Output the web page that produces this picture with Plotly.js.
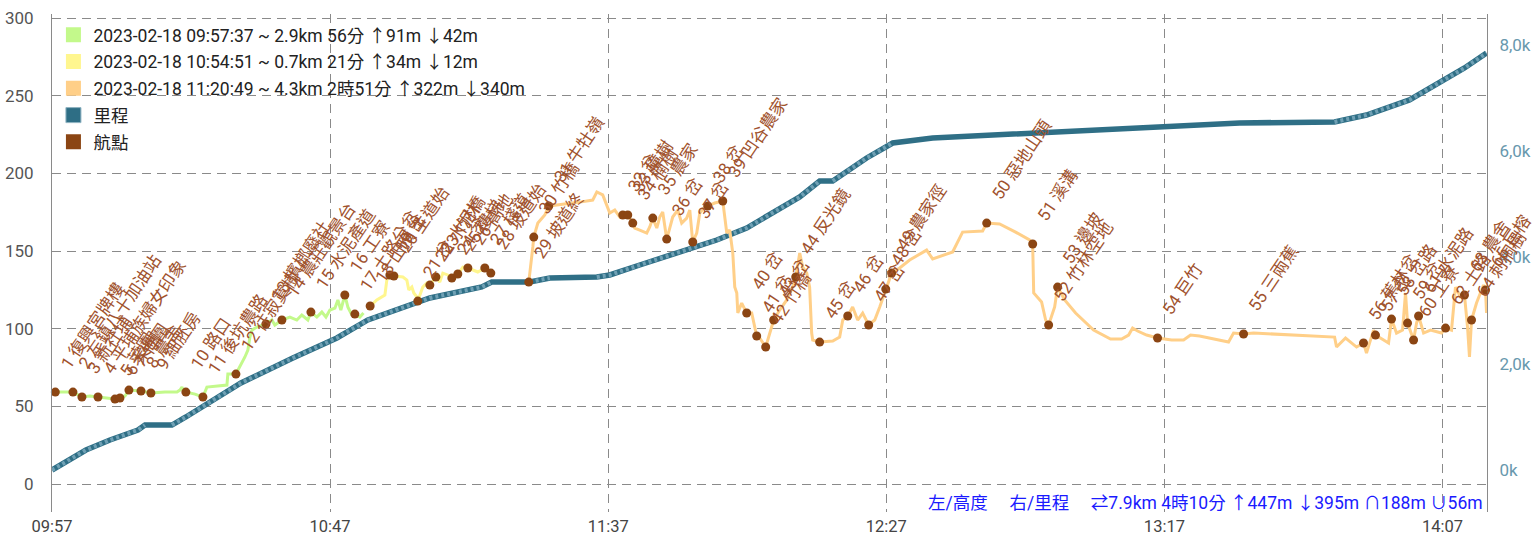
<!DOCTYPE html>
<html><head><meta charset="utf-8">
<script src="https://cdn.plot.ly/plotly-3.0.1.min.js"></script>
<style>html,body{margin:0;padding:0;background:#fff}#chart{width:1537px;height:539px}</style>
</head><body><div id="chart"></div>
<script>
// minutes after 2023-02-18 09:57:37
const greenMin = [0,1.80,3.77,5.39,6.83,8.27,10.07,11.32,12.22,13.12,13.84,16.00,17.79,20.31,22.47,23.01,23.37,23.73,24.08,25.70,27.14,27.86,31.45,31.63,33.07,33.97,34.69,35.23,35.59,35.95,36.85,38.47,39.54,40.08,41.34,42.78,44.03,44.93,46.01,46.55,47.63,48.53,49.25,49.97,50.87,51.40,51.94,52.66,53.20,53.92,54.46,55.36,56.0];
const greenAlt = [59.2,59.2,59.2,56.0,56.7,56.0,55.4,54.7,55.4,56.7,60.5,59.9,58.6,59.2,59.2,60.5,62.4,59.2,59.2,57.9,56.0,62.4,63.7,70.8,70.8,76.6,81.8,86.3,94.6,99.1,101.1,103.0,105.6,102.4,105.6,107.5,105.6,108.8,105.6,110.7,107.5,110.7,107.5,112.0,113.3,118.5,112.0,121.7,113.9,108.8,109.4,107.5,110.1];

const yellowMin = [57.2,58.41,59.85,60.21,60.75,61.47,63.09,63.80,64.16,64.70,65.06,65.60,65.78,66.68,67.40,67.94,69.02,69.73,70.27,71.17,71.89,72.97,73.87,74.77,75.67,76.56,77.82,78.90];
const yellowAlt = [114.6,118.5,121.7,131.3,134.6,133.9,133.3,131.3,124.9,126.8,123.0,120.4,117.8,126.8,129.4,128.1,133.3,130.0,135.8,134.6,132.6,135.2,139.7,139.1,137.8,136.5,139.1,135.8];

const orangeMin = [85.73,86.09,86.45,86.63,87.35,88.61,89.33,90.77,92.56,94.90,97.23,97.95,99.03,100.29,101.19,102.09,102.63,103.52,104.42,104.78,105.68,106.94,107.48,108.02,108.74,109.28,109.81,110.53,111.07,111.61,112.51,113.23,114.13,114.67,115.21,115.93,116.47,117.19,117.91,119.16,120.60,121.32,121.86,122.40,122.76,123.12,123.30,124.01,124.91,125.81,126.71,127.25,128.33,129.05,129.76,130.84,132.10,133.18,133.72,134.44,134.98,135.70,136.23,136.59,136.77,138.03,140.37,141.63,142.17,143.07,143.96,144.86,145.76,146.84,147.92,148.82,149.90,150.97,152.41,154.21,157.26,158.34,161.94,163.73,167.33,168.05,170.38,173.26,175.78,176.32,176.50,177.93,178.65,179.19,180.27,180.81,182.07,184.04,187.28,190.33,192.31,193.57,194.29,195.19,196.80,198.78,201.30,203.45,204.71,206.33,211.54,212.44,214.24,216.04,230.60,230.96,232.57,234.55,235.80,236.34,237.60,237.96,240.30,240.84,241.74,242.82,243.36,243.72,244.80,245.34,245.70,246.60,247.85,249.83,250.55,251.62,252.34,253.24,253.96,254.50,254.86,255.22,256.12,256.84,257.38,257.74,257.92];
const orangeAlt = [130.0,139.7,152.6,159.0,168.0,173.2,179.0,179.6,180.3,181.5,182.8,188.0,186.1,174.5,176.4,171.9,173.2,173.2,168.0,164.8,163.5,161.6,165.5,171.2,164.8,171.9,175.1,157.7,164.8,171.9,176.4,168.0,171.2,176.4,155.8,161.6,174.5,177.7,179.0,180.9,182.2,161.6,163.5,148.7,126.8,123.0,110.1,116.5,110.1,110.1,95.3,94.0,88.2,97.2,105.6,112.0,118.5,126.8,133.3,148.7,139.7,135.8,126.8,97.2,92.7,91.4,92.1,94.6,105.6,108.2,114.0,105.6,110.1,102.4,105.6,114.0,125.5,135.8,139.1,144.2,150.6,144.9,149.4,162.2,162.9,168.0,167.4,162.2,157.1,154.5,123.0,117.2,105.6,102.4,114.0,126.8,118.5,110.1,99.1,93.3,93.3,95.9,100.4,98.5,95.9,94.0,92.7,92.7,95.9,95.3,91.4,97.2,96.6,97.2,94.6,88.2,94.0,88.2,90.8,84.3,99.1,95.9,90.8,106.2,97.2,99.1,123.0,103.6,92.7,103.6,108.2,97.2,99.1,97.2,100.4,99.1,126.8,120.4,121.7,101.1,81.8,105.6,116.5,123.0,128.1,124.9,110.1];

const distMin = [0,6.11,10.42,15.46,16.72,21.57,24.08,33.97,43.31,51.22,56.79,61.83,67.94,77.28,79.08,85.91,89.50,97.95,100.29,105.68,114.13,119.52,124.91,130.84,134.44,138.03,140.37,146.48,151.15,158.34,170.38,184.76,200.58,213.52,230.59,236.34,244.07,249.46,253.95,257.92];
const distM = [0,376,565,753,847,847,998,1638,2108,2485,2824,3012,3238,3445,3539,3539,3614,3633,3671,3859,4141,4329,4555,4913,5139,5440,5440,5873,6155,6249,6306,6381,6475,6532,6551,6682,6965,7304,7567,7849];

const wpMin = [0.6,3.77,5.39,8.27,11.32,12.22,13.84,16.00,17.79,24.08,27.14,33.07,38.47,41.34,46.55,52.66,54.46,57.2,60.75,61.47,65.78,67.94,69.02,71.89,72.97,74.77,77.82,78.90,85.73,86.63,89.33,102.63,103.52,104.42,108.02,110.53,115.21,117.91,120.60,124.91,126.71,128.33,129.76,133.72,138.03,143.07,146.84,149.90,150.97,168.05,176.32,179.19,180.81,198.78,214.24,235.80,237.96,240.84,243.72,244.80,245.70,250.55,253.96,255.22,257.74];
const wpAlt = [59.2,59.2,56.0,56.0,54.7,55.4,60.5,59.9,58.6,59.2,56.0,70.8,103.0,105.6,110.7,121.7,109.4,114.6,134.6,133.9,117.8,128.1,133.3,132.6,135.2,139.1,139.1,135.8,130.0,159.0,179.0,173.2,173.2,168.0,171.2,157.7,155.8,179.0,182.2,110.1,95.3,88.2,105.6,133.3,91.4,108.2,102.4,125.5,135.8,168.0,154.5,102.4,126.8,94.0,96.6,90.8,95.9,106.2,103.6,92.7,108.2,100.4,121.7,105.6,124.9];
const wpName = ['1 復興宮牌樓','2 左鎮八十加油站','3 新社埔','4 平埔族婦女印象','5 菜園','6 菜圃','7 竹圍','8 農舍','9 細胚房','10 路口','11 後坑農路','12 往寂寞樹','13 檳榔廢社','14 農莊觀景台','15 水泥產道','16 工寮','17 土路分岔','18 山頂','19 岔','20 主道始','21 岔','22 水泥橋','23 竹林','24 岔','25 樓梯','26 高地','27 棧道','28 坡道始','29 坡道終','30 竹橋','31 牛牡嶺','32 岔','33 樟樹','34 楠樹','35 農家','36 岔','37 岔','38 岔','39 凹谷農家','40 岔','41 岔','42 竹橋','43 岔','44 反光鏡','45 岔','46 岔','47 岔','48 岔','49 農家徑','50 惡地山頭','51 溪溝','52 竹林空地','53 邊坡','54 巨竹','55 三兩蕉','56 蕉林岔','57 岔','58 岔路','59 岔','60 工寮','61 水泥路','62 土路','63 農舍','64 刺桐樹','65 巨榕'];

const legendNames = ['2023-02-18 09:57:37 ~ 2.9km 56分 ↑91m ↓42m','2023-02-18 10:54:51 ~ 0.7km 21分 ↑34m ↓12m','2023-02-18 11:20:49 ~ 4.3km 2時51分 ↑322m ↓340m','里程','航點'];
const altTicks = [0,50,100,150,200,250,300];
const distTicks = [0,2000,4000,6000,8000];
const distTickText = ['0k','2,0k','4,0k','6,0k','8,0k'];
const summaryText = '左/高度\u00a0\u00a0\u00a0\u00a0\u00a0右/里程\u00a0\u00a0\u00a0\u00a0\u00a0⇄7.9km 4時10分 ↑447m ↓395m ∩188m ∪56m';

const BASE = Date.UTC(2023,1,18,9,57,37);
function toTime(m){
  const d = new Date(BASE + Math.round(m*60000));
  const p = n => String(n).padStart(2,'0');
  return d.getUTCFullYear()+'-'+p(d.getUTCMonth()+1)+'-'+p(d.getUTCDate())+' '+p(d.getUTCHours())+':'+p(d.getUTCMinutes())+':'+p(d.getUTCSeconds());
}
const T = arr => arr.map(toTime);

// lighter speckled overlay on the moving (sloped) parts of the distance line
const movX = [], movY = [];
for (let i = 0; i < distMin.length - 1; i++) {
  const rate = (distM[i+1] - distM[i]) / (distMin[i+1] - distMin[i]);
  if (rate > 15) {
    if (!movX.length || movX[movX.length-1] !== toTime(distMin[i])) { movX.push(toTime(distMin[i])); movY.push(distM[i]); }
    movX.push(toTime(distMin[i+1])); movY.push(distM[i+1]);
  } else if (movX.length && movX[movX.length-1] !== null) { movX.push(null); movY.push(null); }
}

const FONT = 'Roboto, "Noto Sans CJK TC", sans-serif';
const C = {green:'#c3f98b', yellow:'#fff68f', orange:'#ffcf88', dist:'#2f6f86', wp:'#8b4513', label:'#a0522d'};

const traces = [
  {x:T(distMin), y:distM, yaxis:'y', mode:'lines', line:{color:C.dist, width:5.5}, showlegend:false, hoverinfo:'skip'},
  {x:movX, y:movY, yaxis:'y', mode:'lines', connectgaps:false, line:{color:'rgba(135,178,196,0.75)', width:4, dash:'3px,3px'}, showlegend:false, hoverinfo:'skip'},
  {x:T(greenMin), y:greenAlt, yaxis:'y2', mode:'lines', line:{color:C.green, width:3}, showlegend:false},
  {x:T(yellowMin), y:yellowAlt, yaxis:'y2', mode:'lines', line:{color:C.yellow, width:3}, showlegend:false},
  {x:T(orangeMin), y:orangeAlt, yaxis:'y2', mode:'lines', line:{color:C.orange, width:3}, showlegend:false},
  {x:T(wpMin), y:wpAlt, yaxis:'y2', mode:'markers', marker:{color:C.wp, size:9}, cliponaxis:false, showlegend:false}
];
const legColors = [C.green, C.yellow, C.orange, '#2e6e85', C.wp];
legendNames.forEach((n,i)=>{
  traces.push({x:[null], y:[null], yaxis:'y2', mode:'markers', name:n, legendgroup:'g'+i,
    marker:{symbol:'square', size:15, color:legColors[i], line:{width:i===3?1:0, color:'#8fb3c2'}}});
});

const annotations = wpName.map((t,i)=>({
  x: toTime(wpMin[i]), y: wpAlt[i], xref:'x', yref:'y2', text:t, showarrow:false,
  textangle:-56, xanchor:'left', yanchor:'bottom', xshift:-2, yshift:17,
  font:{size:17, color:C.label, family:FONT}
}));
annotations.push({xref:'paper', yref:'paper', x:1, y:0, xanchor:'right', yanchor:'middle', xshift:-2, yshift:9,
  showarrow:false, text:summaryText, font:{size:17.5, color:'#1a1aff', family:FONT}});

const grid = {gridcolor:'#8a8a8a', griddash:'9px,6px', gridwidth:1};
const layout = {
  width:1537, height:539,
  margin:{l:52, r:50, t:14, b:27, pad:0},
  paper_bgcolor:'#ffffff', plot_bgcolor:'#ffffff',
  font:{family:FONT, size:17, color:'#444'},
  showlegend:true,
  legend:{x:0.001, y:0.994, xanchor:'left', yanchor:'top', bgcolor:'rgba(0,0,0,0)', font:{size:17.5, color:'#222', family:FONT}, tracegroupgap:1, traceorder:'grouped'},
  xaxis:Object.assign({type:'date', range:[toTime(0), toTime(258)], tick0:toTime(0), dtick:3000000, tickformat:'%H:%M',
    showgrid:true, showline:false, zeroline:false, ticks:'', tickfont:{size:16.5, color:'#444'}, ticklabelstandoff:2}, grid),
  yaxis:{side:'right', anchor:'x', range:[-790,8583], tickmode:'array', tickvals:distTicks, ticktext:distTickText,
    showgrid:false, zeroline:false, showline:true, linecolor:'#8a8a8a', linewidth:1, ticks:'', tickfont:{size:17, color:'#6898ad'}, ticklabelstandoff:8},
  yaxis2:Object.assign({overlaying:'y', side:'left', anchor:'x', range:[-18,302.6], tickmode:'array', tickvals:altTicks,
    showgrid:true, zeroline:false, showline:true, linecolor:'#8a8a8a', linewidth:1, ticks:'', tickfont:{size:17, color:'#555'}, ticklabelstandoff:14}, grid),
  annotations:annotations
};
Plotly.newPlot('chart', traces, layout, {displayModeBar:false, staticPlot:true});
</script>
</body></html>
